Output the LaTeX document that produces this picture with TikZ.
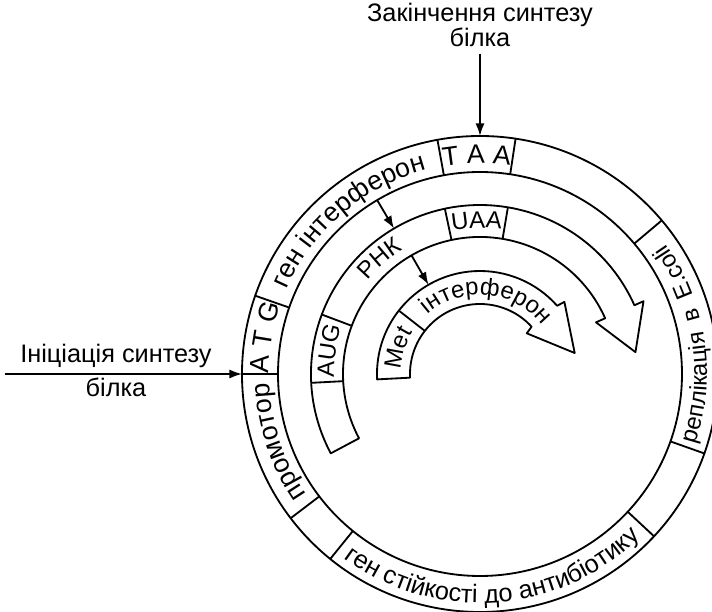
\documentclass[tikz,border=0pt]{standalone}
\usepackage{fontspec}
\setmainfont{Liberation Sans}
\usetikzlibrary{arrows.meta,decorations.text}

\newcommand{\ringfont}{\fontsize{19}{21}\selectfont}
\newcommand{\smallringfont}{\fontsize{17}{19}\selectfont}
\newcommand{\bottomringfont}{\fontsize{18}{20}\selectfont}
\newcommand{\bandfont}{\fontsize{17}{19}\selectfont}

\begin{document}
\begin{tikzpicture}[
  x=0.025cm, y=0.025cm,
  line width=1.3pt, line join=round,
  lbl/.style={font=\fontsize{18}{16}\selectfont, align=center, inner sep=0pt},
  pointer/.style={-{Latex[length=9pt,width=6.5pt]}},
  arctext/.style={decorate, decoration={text along path, text align=center, text={#1}}}
]
\useasboundingbox (-480,-238) rectangle (232,374);
% plasmid ring
\begin{scope}
  \clip (-480,-238) rectangle (232,374);
  \draw (0,0) circle[radius=238];
  \draw (0,0) circle[radius=202];
  \foreach \a in {180,160.8,100.3,81.4,40.2,-19.5,-43,-129,-142.7}
    \draw (\a:202) -- (\a:238);
\end{scope}
% ring labels
\path[arctext={|\ringfont|A T G}] (180:211) arc[start angle=180, end angle=160.8, radius=211];
\path[arctext={|\ringfont|ген інтерферон}] (160.8:211) arc[start angle=160.8, end angle=100.3, radius=211];
\path[arctext={|\ringfont|T A A}] (100.3:211) arc[start angle=100.3, end angle=81.4, radius=211];
\path[arctext={|\ringfont|промотор}] (217.3:211) arc[start angle=217.3, end angle=180, radius=211];
\path[decorate, decoration={text along path, text align=fit to path stretching spaces,
  text={|\smallringfont|реплікація в E.coli}}] (-18:227) arc[start angle=-18, end angle=35, radius=227];
\path[arctext={|\bottomringfont|ген стійкості до антибіотику}] (-129:229) arc[start angle=-129, end angle=-43, radius=229];
% mRNA
\draw (208:169) arc[start angle=208, end angle=24, radius=169] -- (24:179) -- (8:157)
  -- (24:127) -- (24:137) arc[start angle=24, end angle=208, radius=137] -- cycle;
\foreach \a in {183,159.4,102,80.5}
  \draw (\a:137) -- (\a:169);
\path[arctext={|\bandfont|AUG}] (183:146) arc[start angle=183, end angle=159.4, radius=146];
\path[arctext={|\bandfont|РНК}] (150:146) arc[start angle=150, end angle=112, radius=146];
\path[arctext={|\bandfont|UAA}] (102:146) arc[start angle=102, end angle=80.5, radius=146];
% protein
\draw (183:103) arc[start angle=183, end angle=41.5, radius=103] -- (40.5:111) -- (12.5:97)
  -- (41:62) -- (42.5:70) arc[start angle=42.5, end angle=183, radius=70] -- cycle;
\draw (142:70) -- (142:103);
\path[arctext={|\bandfont|Met}] (183:79) arc[start angle=183, end angle=142, radius=79];
\path[arctext={|\bandfont|інтерферон}] (129:79) arc[start angle=129, end angle=40, radius=79];
% transcription and translation
\coordinate (geneA) at (120.6:202);
\coordinate (rnaA) at (120.6:169);
\coordinate (rnaB) at (120:137);
\coordinate (protB) at (120:103);
\draw[pointer] (geneA) -- (rnaA);
\draw[pointer] (rnaB) -- (protB);
% start and stop
\node[lbl, anchor=south] (stoplab) at (0,326) {Закінчення синтезу\\білка};
\coordinate (stoppt) at (90:238);
\draw[pointer, shorten <=4pt] (stoplab) -- (stoppt);
\node[lbl, anchor=base] (initlab) at (-364,11) {Ініціація синтезу};
\node[lbl, anchor=base] (initlab2) at (-364,-23) {білка};
\coordinate (initstart) at (-475,0);
\coordinate (initpt) at (180:238);
\draw[pointer] (initstart) -- (initpt);
\end{tikzpicture}
\end{document}
